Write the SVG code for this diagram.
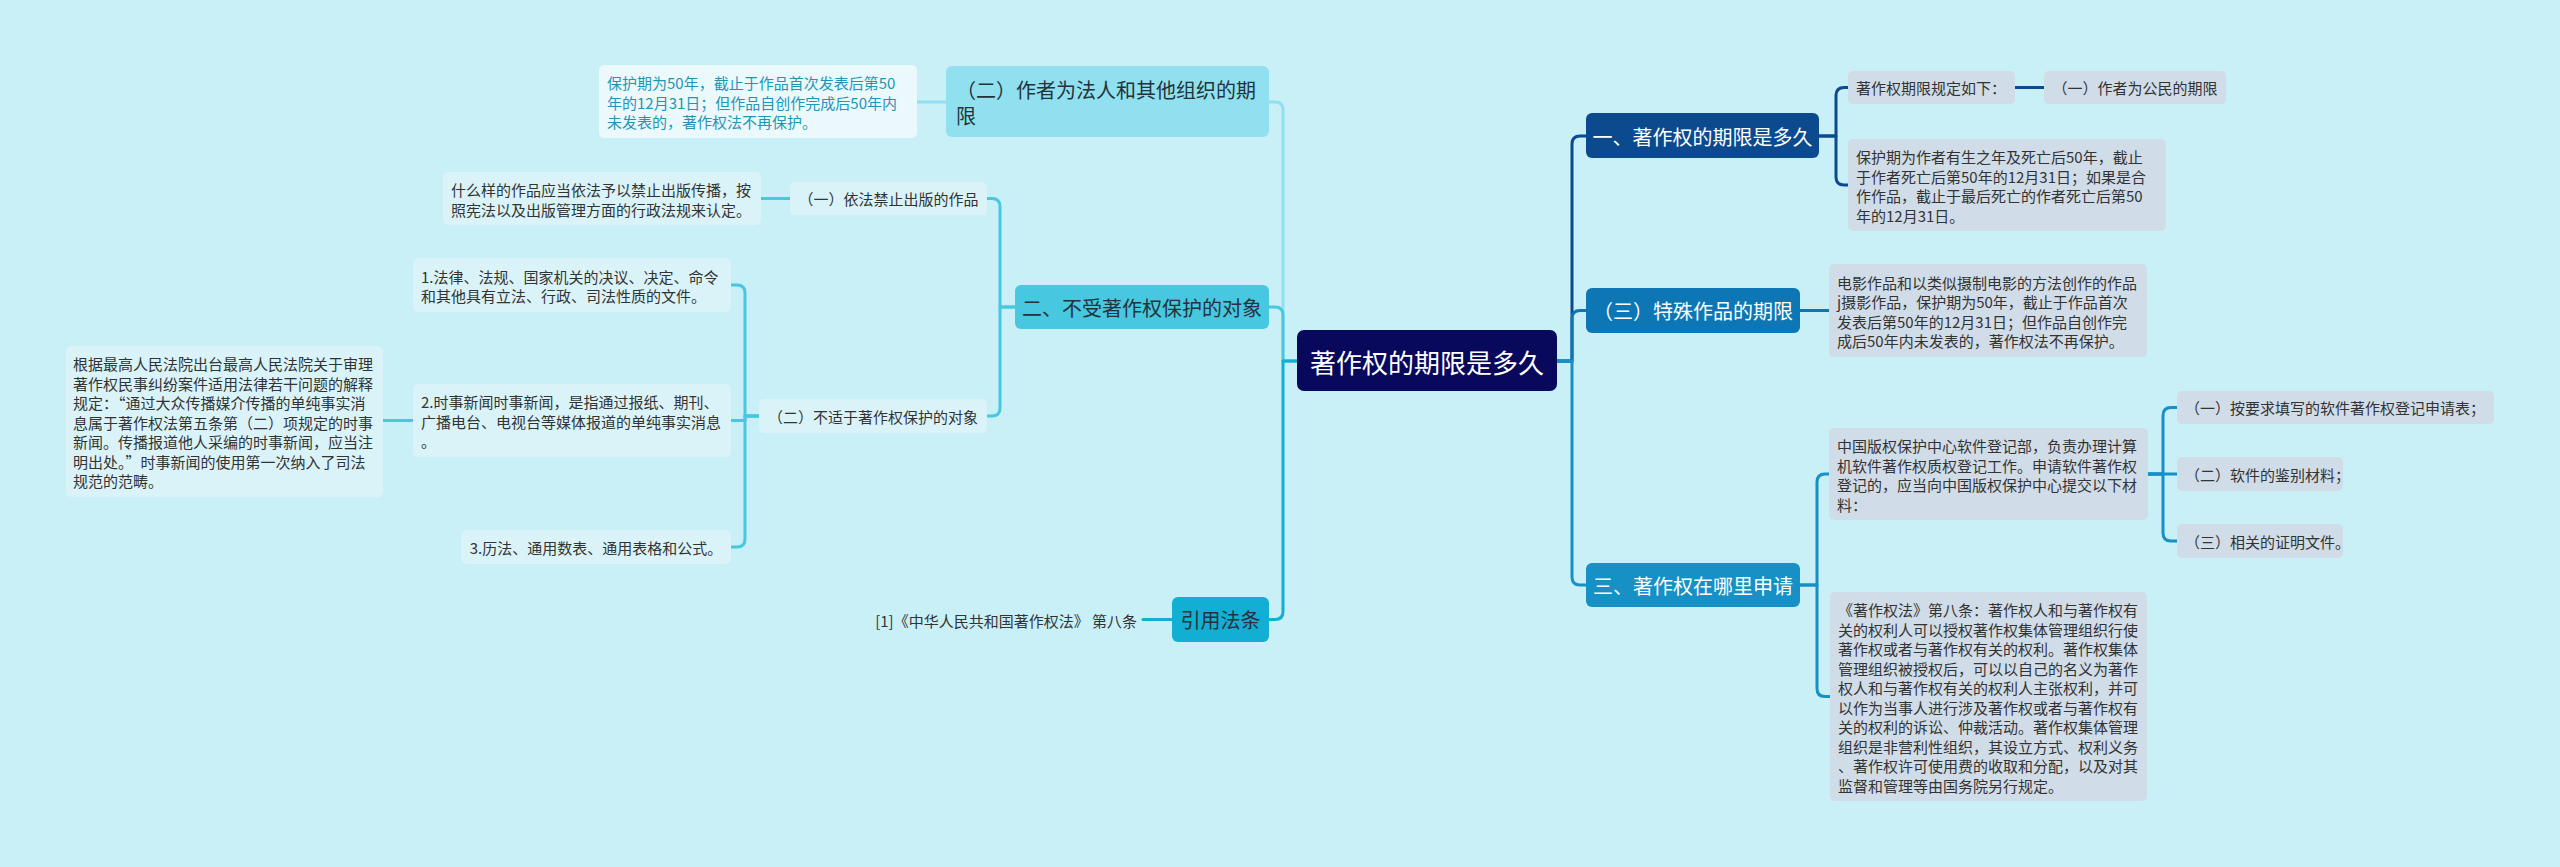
<svg xmlns="http://www.w3.org/2000/svg" width="2560" height="867" viewBox="0 0 2560 867">
<style>
text{font-family:"Noto Sans CJK SC","Noto Sans",sans-serif;dominant-baseline:central}
.c{fill:none;stroke-width:3;stroke-linecap:round;stroke-linejoin:round}
.t15{font-size:15px;fill:#333}
.t20{font-size:20px}
.w{fill:#fff}
.d{fill:#24333a}
.mid{text-anchor:middle}
.subR{fill:#d0dce7}
.subL{fill:#d9f3f9}
</style>
<rect x="0" y="0" width="2560" height="867" fill="#c9eff7"/>
<g id="connectors">
<path class="c" stroke="#0c4a8f" d="M1557 361H1572V144Q1572 136 1580 136H1586"/>
<path class="c" stroke="#0d77b5" d="M1557 361H1572V318.5Q1572 310.5 1580 310.5H1586"/>
<path class="c" stroke="#1790c6" d="M1557 361H1572V577Q1572 585 1580 585H1586"/>
<path class="c" stroke="#0c4a8f" d="M1819 136H1836V95.5Q1836 87.5 1844 87.5H1848"/>
<path class="c" stroke="#0c4a8f" d="M1819 136H1836V177Q1836 185 1844 185H1848"/>
<path class="c" stroke="#0c4a8f" d="M2015 87.5H2044"/>
<path class="c" stroke="#0d77b5" d="M1800 310.5H1829"/>
<path class="c" stroke="#1790c6" d="M1800 585H1817V482Q1817 474 1825 474H1829"/>
<path class="c" stroke="#1790c6" d="M1800 585H1817V688.5Q1817 696.5 1825 696.5H1830"/>
<path class="c" stroke="#1790c6" d="M2148 474H2163V415.5Q2163 407.5 2171 407.5H2177"/>
<path class="c" stroke="#1790c6" d="M2148 474H2177"/>
<path class="c" stroke="#1790c6" d="M2148 474H2163V533Q2163 541 2171 541H2177"/>
<path class="c" stroke="#90e0f0" d="M1297 361H1283V110Q1283 102 1275 102H1269"/>
<path class="c" stroke="#47c7e0" d="M1297 361H1283V315Q1283 307 1275 307H1269"/>
<path class="c" stroke="#12aed3" d="M1297 361H1283V611.5Q1283 619.5 1275 619.5H1269"/>
<path class="c" stroke="#90e0f0" d="M946 102H917"/>
<path class="c" stroke="#47c7e0" d="M1015 307H1000V206.5Q1000 198.5 992 198.5H987"/>
<path class="c" stroke="#47c7e0" d="M1015 307H1000V408Q1000 416 992 416H987"/>
<path class="c" stroke="#47c7e0" d="M790 198.5H761"/>
<path class="c" stroke="#47c7e0" d="M759 416H745V293Q745 285 737 285H731"/>
<path class="c" stroke="#47c7e0" d="M759 416H745V420.5H731"/>
<path class="c" stroke="#47c7e0" d="M759 416H745V539Q745 547 737 547H731"/>
<path class="c" stroke="#47c7e0" d="M413 420.5H383"/>
<path class="c" stroke="#12aed3" d="M1172 619.5H1143"/>
</g>
<g id="center">
<rect x="1297" y="330" width="260" height="61" rx="7" fill="#08085c"/>
<text x="1427" y="361" class="w mid" font-size="26">著作权的期限是多久</text>
</g>
<g id="r1">
<rect x="1586" y="113" width="233" height="45" rx="6" fill="#0c4a8f"/>
<text x="1702.5" y="136" class="t20 w mid">一、著作权的期限是多久</text>
</g>
<g id="r1a">
<rect x="1848" y="71" width="167" height="33" rx="5" class="subR"/>
<text x="1856" y="87.5" class="t15">著作权期限规定如下：</text>
</g>
<g id="r1a1">
<rect x="2044" y="71" width="182" height="33" rx="5" class="subR"/>
<text x="2135" y="87.5" class="t15 mid">（一）作者为公民的期限</text>
</g>
<g id="r1b">
<rect x="1848" y="139" width="318" height="92" rx="5" class="subR"/>
<text class="t15"><tspan x="1856" y="156">保护期为作者有生之年及死亡后50年，截止</tspan><tspan x="1856" y="175.5">于作者死亡后第50年的12月31日；如果是合</tspan><tspan x="1856" y="195">作作品，截止于最后死亡的作者死亡后第50</tspan><tspan x="1856" y="214.5">年的12月31日。</tspan></text>
</g>
<g id="r2">
<rect x="1586" y="288" width="214" height="45" rx="6" fill="#0d77b5"/>
<text x="1693" y="310.5" class="t20 w mid">（三）特殊作品的期限</text>
</g>
<g id="r2a">
<rect x="1829" y="264" width="318" height="93" rx="5" class="subR"/>
<text class="t15"><tspan x="1837" y="281.5">电影作品和以类似摄制电影的方法创作的作品</tspan><tspan x="1837" y="301">j摄影作品，保护期为50年，截止于作品首次</tspan><tspan x="1837" y="320.5">发表后第50年的12月31日；但作品自创作完</tspan><tspan x="1837" y="340">成后50年内未发表的，著作权法不再保护。</tspan></text>
</g>
<g id="r3">
<rect x="1586" y="563" width="214" height="44" rx="6" fill="#1790c6"/>
<text x="1693" y="585" class="t20 w mid">三、著作权在哪里申请</text>
</g>
<g id="r3a">
<rect x="1829" y="428" width="319" height="92" rx="5" class="subR"/>
<text class="t15"><tspan x="1837" y="445">中国版权保护中心软件登记部，负责办理计算</tspan><tspan x="1837" y="464.5">机软件著作权质权登记工作。申请软件著作权</tspan><tspan x="1837" y="484">登记的，应当向中国版权保护中心提交以下材</tspan><tspan x="1837" y="503.5">料：</tspan></text>
</g>
<g id="r3a1">
<rect x="2177" y="391" width="317" height="33" rx="5" class="subR"/>
<text x="2185" y="407.5" class="t15">（一）按要求填写的软件著作权登记申请表；</text>
</g>
<g id="r3a2">
<rect x="2177" y="457" width="166" height="34" rx="5" class="subR"/>
<text x="2185" y="474" class="t15">（二）软件的鉴别材料；</text>
</g>
<g id="r3a3">
<rect x="2177" y="524" width="166" height="34" rx="5" class="subR"/>
<text x="2185" y="541" class="t15">（三）相关的证明文件。</text>
</g>
<g id="r3b">
<rect x="1830" y="592" width="317" height="209" rx="5" class="subR"/>
<text class="t15"><tspan x="1838" y="609">《著作权法》第八条：著作权人和与著作权有</tspan><tspan x="1838" y="628.5">关的权利人可以授权著作权集体管理组织行使</tspan><tspan x="1838" y="648">著作权或者与著作权有关的权利。著作权集体</tspan><tspan x="1838" y="667.5">管理组织被授权后，可以以自己的名义为著作</tspan><tspan x="1838" y="687">权人和与著作权有关的权利人主张权利，并可</tspan><tspan x="1838" y="706.5">以作为当事人进行涉及著作权或者与著作权有</tspan><tspan x="1838" y="726">关的权利的诉讼、仲裁活动。著作权集体管理</tspan><tspan x="1838" y="745.5">组织是非营利性组织，其设立方式、权利义务</tspan><tspan x="1838" y="765">、著作权许可使用费的收取和分配，以及对其</tspan><tspan x="1838" y="784.5">监督和管理等由国务院另行规定。</tspan></text>
</g>
<g id="l1">
<rect x="946" y="66" width="323" height="71" rx="6" fill="#90e0f0"/>
<text class="t20 d"><tspan x="956" y="89">（二）作者为法人和其他组织的期</tspan><tspan x="956" y="115">限</tspan></text>
</g>
<g id="l1a">
<rect x="599" y="65" width="318" height="73" rx="5" fill="#ebf9fc"/>
<text class="t15" style="fill:#1e96b4"><tspan x="607" y="82">保护期为50年，截止于作品首次发表后第50</tspan><tspan x="607" y="101.5">年的12月31日；但作品自创作完成后50年内</tspan><tspan x="607" y="121">未发表的，著作权法不再保护。</tspan></text>
</g>
<g id="l2">
<rect x="1015" y="285" width="254" height="44" rx="6" fill="#47c7e0"/>
<text x="1142" y="307" class="t20 d mid">二、不受著作权保护的对象</text>
</g>
<g id="l2a">
<rect x="790" y="182" width="197" height="33" rx="5" class="subL"/>
<text x="888.5" y="198.5" class="t15 mid">（一）依法禁止出版的作品</text>
</g>
<g id="l2a1">
<rect x="443" y="172" width="318" height="53" rx="5" class="subL"/>
<text class="t15"><tspan x="451" y="189">什么样的作品应当依法予以禁止出版传播，按</tspan><tspan x="451" y="208.5">照宪法以及出版管理方面的行政法规来认定。</tspan></text>
</g>
<g id="l2b">
<rect x="759" y="399" width="228" height="34" rx="5" class="subL"/>
<text x="873" y="416" class="t15 mid">（二）不适于著作权保护的对象</text>
</g>
<g id="l2b1">
<rect x="413" y="258" width="318" height="54" rx="5" class="subL"/>
<text class="t15"><tspan x="421" y="275.5">1.法律、法规、国家机关的决议、决定、命令</tspan><tspan x="421" y="295">和其他具有立法、行政、司法性质的文件。</tspan></text>
</g>
<g id="l2b2">
<rect x="413" y="384" width="318" height="73" rx="5" class="subL"/>
<text class="t15"><tspan x="421" y="401">2.时事新闻时事新闻，是指通过报纸、期刊、</tspan><tspan x="421" y="420.5">广播电台、电视台等媒体报道的单纯事实消息</tspan><tspan x="421" y="440">。</tspan></text>
</g>
<g id="l2b2a">
<rect x="66" y="346" width="317" height="151" rx="5" class="subL"/>
<text class="t15"><tspan x="73" y="363">根据最高人民法院出台最高人民法院关于审理</tspan><tspan x="73" y="382.5">著作权民事纠纷案件适用法律若干问题的解释</tspan><tspan x="73" y="402">规定：“通过大众传播媒介传播的单纯事实消</tspan><tspan x="73" y="421.5">息属于著作权法第五条第（二）项规定的时事</tspan><tspan x="73" y="441">新闻。传播报道他人采编的时事新闻，应当注</tspan><tspan x="73" y="460.5">明出处。”时事新闻的使用第一次纳入了司法</tspan><tspan x="73" y="480">规范的范畴。</tspan></text>
</g>
<g id="l2b3">
<rect x="461" y="530" width="270" height="34" rx="5" class="subL"/>
<text x="596" y="547" class="t15 mid">3.历法、通用数表、通用表格和公式。</text>
</g>
<g id="l3">
<rect x="1172" y="597" width="97" height="45" rx="6" fill="#12aed3"/>
<text x="1220.5" y="619.5" class="t20 d mid">引用法条</text>
</g>
<g id="l3a">
<text x="1137" y="620" class="t15" text-anchor="end">[1]《中华人民共和国著作权法》 第八条</text>
</g>
</svg>
